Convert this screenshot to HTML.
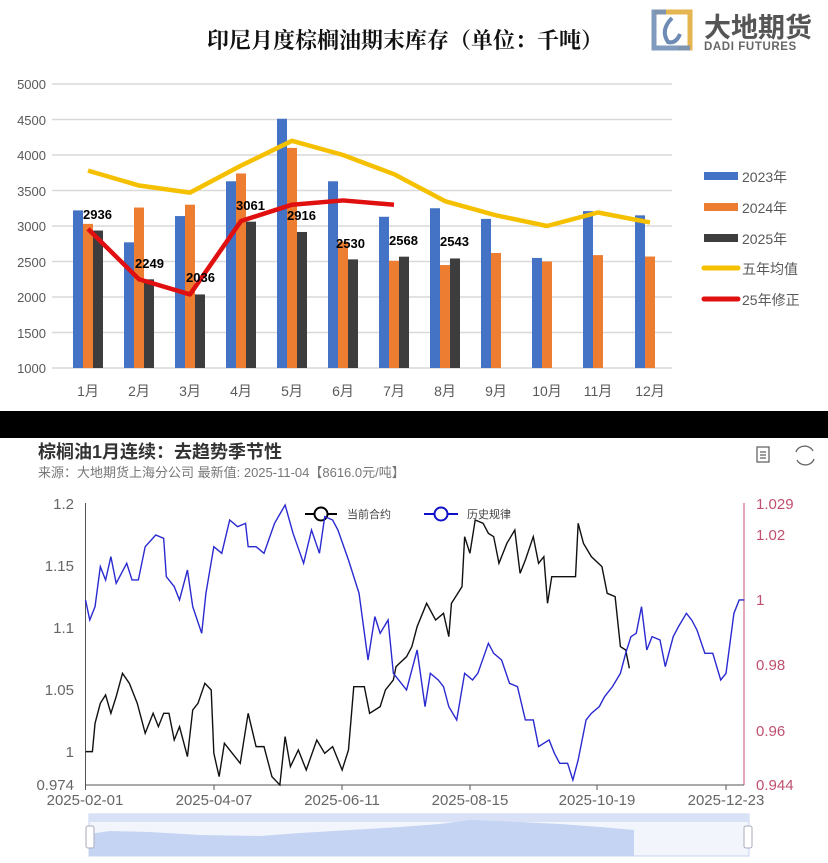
<!DOCTYPE html>
<html><head><meta charset="utf-8"><style>
body{margin:0;width:828px;height:863px;background:#fff;overflow:hidden;font-family:"Liberation Sans","Noto Sans CJK SC",sans-serif}
svg{position:absolute;left:0;top:0}
</style></head><body>
<svg id="s" width="828" height="863" viewBox="0 0 828 863" font-family="Liberation Sans, Noto Sans CJK SC, sans-serif">
<rect width="828" height="863" fill="#fff"/>
<!-- top title -->
<text x="405" y="48" text-anchor="middle" font-family="Noto Serif CJK SC, serif" font-weight="bold" font-size="22" fill="#111">印尼月度棕榈油期末库存（单位：千吨）</text>
<!-- logo -->
<path d="M654 12 H690 V48 H678" fill="none" stroke="#e5b650" stroke-width="5"/>
<path d="M690 48 H654 V12 H666" fill="none" stroke="#7390b8" stroke-width="5" opacity="0.9"/>
<path d="M672 18 Q660 30 668 42 Q676 44 680 34" fill="none" stroke="#6d8bb5" stroke-width="4"/>
<text x="704" y="37" font-size="27" font-weight="bold" fill="#555">大地期货</text>
<text x="704" y="50" font-size="11.5" font-weight="bold" fill="#666" letter-spacing="0.6">DADI FUTURES</text>
<g id="grid" stroke="#d9d9d9" stroke-width="1.5"></g>
<g font-size="13" fill="#595959" text-anchor="end">
<text x="46" y="89">5000</text><text x="46" y="125">4500</text><text x="46" y="160">4000</text><text x="46" y="196">3500</text><text x="46" y="231">3000</text><text x="46" y="267">2500</text><text x="46" y="302">2000</text><text x="46" y="338">1500</text><text x="46" y="373">1000</text>
</g>
<g id="bars"></g>
<g font-size="14" fill="#595959" text-anchor="middle">
<text x="88" y="396">1月</text><text x="139" y="396">2月</text><text x="190" y="396">3月</text><text x="241" y="396">4月</text><text x="292" y="396">5月</text><text x="343" y="396">6月</text><text x="394" y="396">7月</text><text x="445" y="396">8月</text><text x="496" y="396">9月</text><text x="547" y="396">10月</text><text x="598" y="396">11月</text><text x="650" y="396">12月</text>
</g>
<polyline id="avg" fill="none" stroke="#f5c000" stroke-width="4.5" stroke-linejoin="round"/>
<polyline id="red" fill="none" stroke="#e01010" stroke-width="4.5" stroke-linejoin="round"/>
<g font-size="13" font-weight="bold" fill="#000">
<text x="83" y="219">2936</text><text x="135" y="268">2249</text><text x="186" y="282">2036</text><text x="236" y="210">3061</text><text x="287" y="220">2916</text><text x="336" y="248">2530</text><text x="389" y="245">2568</text><text x="440" y="246">2543</text>
</g>
<!-- legend -->
<g font-size="14" fill="#595959">
<rect x="704" y="172" width="34" height="8" fill="#4472c4"/><text x="742" y="182">2023年</text>
<rect x="704" y="203" width="34" height="8" fill="#ed7d31"/><text x="742" y="213">2024年</text>
<rect x="704" y="234" width="34" height="8" fill="#3d3d3d"/><text x="742" y="244">2025年</text>
<line x1="704" y1="268" x2="738" y2="268" stroke="#f5c000" stroke-width="5" stroke-linecap="round"/><text x="742" y="274">五年均值</text>
<line x1="704" y1="299" x2="738" y2="299" stroke="#e01010" stroke-width="5" stroke-linecap="round"/><text x="742" y="305">25年修正</text>
</g>
<!-- black band -->
<rect x="0" y="411" width="828" height="27" fill="#000"/>
<!-- bottom chart -->
<text x="38" y="458" font-size="18" font-weight="bold" fill="#333">棕榈油1月连续：去趋势季节性</text>
<text x="38" y="477" font-size="13" fill="#777">来源：大地期货上海分公司  最新值: 2025-11-04【8616.0元/吨】</text>
<g fill="none" stroke="#666" stroke-width="1.3">
<rect x="757" y="447" width="12" height="15"/><line x1="760" y1="452" x2="766" y2="452"/><line x1="760" y1="455" x2="766" y2="455"/><line x1="760" y1="458" x2="766" y2="458"/>
<path d="M796 452 A9 8 0 0 1 813 451 M814 459 A9 8 0 0 1 797 460"/>
</g>
<line x1="85.5" y1="503" x2="85.5" y2="785" stroke="#555" stroke-width="1"/>
<line x1="744" y1="503" x2="744" y2="785" stroke="#d0708a" stroke-width="1.2"/>
<line x1="85" y1="785" x2="744" y2="785" stroke="#555" stroke-width="1"/>
<g stroke="#555"><line x1="85.5" y1="785" x2="85.5" y2="790"/><line x1="214" y1="785" x2="214" y2="790"/><line x1="342" y1="785" x2="342" y2="790"/><line x1="470" y1="785" x2="470" y2="790"/><line x1="597" y1="785" x2="597" y2="790"/><line x1="726" y1="785" x2="726" y2="790"/></g>
<g font-size="15" fill="#666" text-anchor="end">
<text x="74" y="509">1.2</text><text x="74" y="571">1.15</text><text x="74" y="633">1.1</text><text x="74" y="695">1.05</text><text x="74" y="757">1</text><text x="74" y="790">0.974</text>
</g>
<g font-size="15" fill="#c0506e">
<text x="756" y="509">1.029</text><text x="756" y="540">1.02</text><text x="756" y="605">1</text><text x="756" y="670">0.98</text><text x="756" y="736">0.96</text><text x="756" y="790">0.944</text>
</g>
<g font-size="15" fill="#666" text-anchor="middle">
<text x="85" y="805">2025-02-01</text><text x="214" y="805">2025-04-07</text><text x="342" y="805">2025-06-11</text><text x="470" y="805">2025-08-15</text><text x="597" y="805">2025-10-19</text><text x="726" y="805">2025-12-23</text>
</g>
<!-- legend bottom -->
<line x1="305" y1="514" x2="337" y2="514" stroke="#000" stroke-width="2"/><circle cx="321" cy="514" r="6.5" fill="#fff" stroke="#000" stroke-width="2"/>
<text x="347" y="518" font-size="11" fill="#444">当前合约</text>
<line x1="424" y1="514" x2="458" y2="514" stroke="#1010c8" stroke-width="2"/><circle cx="441" cy="514" r="6.5" fill="#fff" stroke="#1010c8" stroke-width="2"/>
<text x="467" y="518" font-size="11" fill="#444">历史规律</text>
<g transform="translate(0,420) scale(0.528,0.3333)">
<polyline id="blk" fill="none" stroke="#111" stroke-width="1.4" vector-effect="non-scaling-stroke"/>
<polyline id="blu" fill="none" stroke="#2a2ad0" stroke-width="1.4" vector-effect="non-scaling-stroke"/>
</g>
<!-- slider -->
<rect x="89" y="814" width="660" height="42" fill="#f2f5fc" stroke="#c8d3ee"/>
<rect x="89" y="814" width="660" height="8" fill="#d8e1f6"/>
<path d="M89 856 L89 834 L110 831 L150 832 L200 835 L260 836 L300 833 L350 830 L400 827 L440 824 L470 820 L520 822 L560 824 L600 827 L634 830 L634 856 Z" fill="#c6d4f3"/>
<rect x="86" y="826" width="8" height="22" rx="2" fill="#fff" stroke="#aab"/>
<rect x="744" y="826" width="8" height="22" rx="2" fill="#fff" stroke="#aab"/>
</svg>
<script>
var S="http://www.w3.org/2000/svg";
function Y(v){return 368-(v-1000)*0.071;}
var g=document.getElementById('grid');
for(var v=1000;v<=5000;v+=500){var l=document.createElementNS(S,'line');l.setAttribute('x1',52);l.setAttribute('x2',672);l.setAttribute('y1',Y(v));l.setAttribute('y2',Y(v));g.appendChild(l);}
var cx=[88,139,190,241,292,343,394,445,496,547,598,650];
var a=[3220,2770,3140,3630,4510,3630,3130,3250,3100,2550,3210,3150];
var b=[3030,3260,3300,3740,4100,2780,2510,2450,2620,2500,2590,2570];
var c=[2936,2249,2036,3061,2916,2530,2568,2543];
var bg=document.getElementById('bars');
function bar(x,v,col){var r=document.createElementNS(S,'rect');r.setAttribute('x',x);r.setAttribute('y',Y(v));r.setAttribute('width',10);r.setAttribute('height',368-Y(v));r.setAttribute('fill',col);bg.appendChild(r);}
for(var i=0;i<12;i++){bar(cx[i]-15,a[i],'#4472c4');bar(cx[i]-5,b[i],'#ed7d31');if(i<8)bar(cx[i]+5,c[i],'#3d3d3d');}
var avg=[3780,3570,3470,3850,4200,4000,3730,3350,3150,3000,3190,3050];
document.getElementById('avg').setAttribute('points',cx.map(function(x,i){return x+','+Y(avg[i]);}).join(' '));
var rd=[2960,2250,2036,3070,3300,3360,3300];
document.getElementById('red').setAttribute('points',rd.map(function(v,i){return cx[i]+','+Y(v);}).join(' '));
document.getElementById('blu').setAttribute('points',"162,540 170,600 180,560 190,440 200,480 210,410 220,490 240,430 250,480 262,480 275,380 295,345 310,355 315,470 330,500 340,540 355,450 365,560 382,640 390,520 405,380 420,400 435,300 450,320 465,310 470,380 485,380 500,400 520,310 540,255 555,340 575,430 590,330 605,400 615,290 630,300 640,330 660,420 680,520 697,720 710,590 720,640 735,600 745,760 760,790 770,810 790,690 805,860 815,760 830,780 840,800 850,860 865,900 880,760 895,780 905,760 925,670 935,700 950,720 965,790 980,800 995,900 1010,900 1020,980 1040,960 1050,1000 1060,1030 1075,1030 1085,1080 1095,1020 1110,900 1120,880 1135,860 1145,830 1160,800 1175,760 1185,700 1195,650 1205,640 1215,560 1225,690 1235,650 1250,660 1260,740 1275,650 1285,620 1300,580 1310,600 1320,630 1335,700 1350,700 1365,780 1375,760 1390,580 1400,540 1410,540");
document.getElementById('blk').setAttribute('points',"162,995 175,995 180,910 190,850 200,825 210,880 220,830 232,760 245,790 260,850 275,940 290,880 300,920 310,880 320,880 330,960 340,920 355,1010 365,870 375,850 388,790 400,810 405,1000 415,1070 425,970 440,1000 455,1030 470,880 485,980 500,980 515,1070 530,1095 540,950 550,1040 565,990 580,1050 600,960 615,1000 630,980 648,1050 660,990 670,800 690,800 700,880 720,860 730,810 745,780 750,740 770,710 780,680 790,620 808,550 825,600 840,580 850,650 855,550 875,500 880,350 890,400 900,300 915,310 925,340 935,350 945,430 960,370 975,330 985,460 995,420 1010,350 1020,430 1030,410 1037,550 1045,470 1090,470 1095,310 1105,370 1120,410 1140,440 1150,520 1165,530 1175,680 1185,690 1192,745");
</script>
</body></html>
